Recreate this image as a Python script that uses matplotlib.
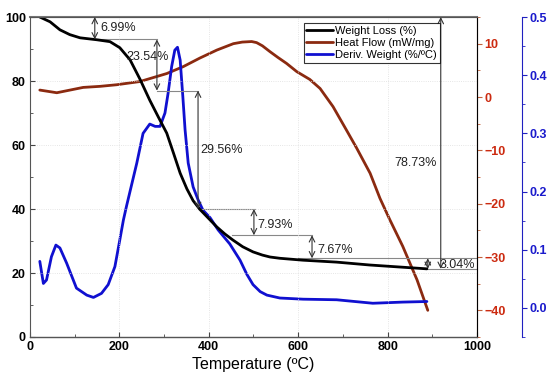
import numpy as np
import matplotlib.pyplot as plt
from matplotlib.ticker import MultipleLocator

plt.rcParams['font.family'] = ['Liberation Sans', 'DejaVu Sans']

# Weight loss (%) vs temperature
t_w = [22, 45, 67, 89, 112, 149, 179, 201, 224, 246, 268, 287, 306, 321, 336, 351, 365, 380, 400, 418, 436, 454, 476, 499,
       520, 537, 559, 611, 686, 760, 888]
w = [100, 98.5, 96.0, 94.5, 93.5, 92.9, 92.3, 90.4, 86.6, 80.6, 74.0, 68.8, 63.7, 57.5, 51.2, 46.3, 42.6, 39.9, 37.0, 34.4,
     32.2, 30.3, 28.2, 26.6, 25.6, 25.0, 24.6, 24.0, 23.4, 22.5, 21.3]

# Heat flow (mW/mg)
t_h = [22, 60, 119, 157, 194, 246, 306, 343, 380, 418, 455, 475, 496, 507, 520, 537, 555, 574, 597, 626, 649, 678, 708, 731,
       761, 783, 805, 834, 866, 890]
hf = [1.3, 0.8, 1.8, 2.0, 2.3, 2.9, 4.4, 5.7, 7.3, 8.8, 10.0, 10.3, 10.4, 10.2, 9.6, 8.5, 7.4, 6.3, 4.75, 3.3, 1.6, -1.8,
      -6.2, -9.6, -14.3, -19.0, -23.0, -28.0, -34.3, -40.0]

# Derivative weight (%/ºC)
t_d = [22, 30, 37, 48, 58, 67, 82, 104, 127, 142, 160, 175, 190, 201, 209, 216, 239, 253, 268, 280, 291, 302, 309, 317, 324,
       330, 336, 342, 347, 354, 365, 376, 387, 403, 421, 447, 470, 485, 499, 515, 530, 559, 611, 686, 767, 834, 888]
dw = [0.08, 0.042, 0.048, 0.088, 0.108, 0.103, 0.077, 0.034, 0.022, 0.018, 0.025, 0.04, 0.071, 0.117, 0.151, 0.175, 0.249,
      0.3, 0.316, 0.312, 0.312, 0.335, 0.369, 0.415, 0.443, 0.448, 0.426, 0.363, 0.306, 0.249, 0.208, 0.186, 0.168, 0.155,
      0.134, 0.11, 0.082, 0.058, 0.04, 0.028, 0.022, 0.017, 0.015, 0.014, 0.008, 0.010, 0.011]

# step annotations: (x of arrow, top, bottom, label, label x, label y)
steps = [
    (145, 100, 93.0, '6.99%', 198, 96.5),
    (284, 93.0, 77.0, '23.54%', 262, 87.5),
    (376, 77.0, 40.0, '29.56%', 428, 58.4),
    (501, 40.0, 31.8, '7.93%', 548, 35.0),
    (631, 31.8, 24.6, '7.67%', 682, 27.2),
    (890, 24.6, 21.3, '3.04%', 957, 22.5),
]
# horizontal guide lines: (y, x0, x1)
guides = [(93.0, 145, 284), (77.0, 284, 376), (40.0, 376, 503), (31.8, 452, 631), (24.6, 600, 1000), (21.3, 888, 1000)]

fig = plt.figure(figsize=(5.5, 3.84), dpi=100)
ax = fig.add_axes([0.0545, 0.1224, 0.8127, 0.8333])
ax2 = ax.twinx()
ax3 = ax.twinx()
ax3.spines['right'].set_position(('axes', 1.1007))

kw = dict(lw=2, solid_joinstyle='round', solid_capstyle='round')
l1, = ax.plot(t_w, w, color='black', label='Weight Loss (%)', **kw)
l2, = ax2.plot(t_h, hf, color='#8b2a10', label='Heat Flow (mW/mg)', **kw)
l3, = ax3.plot(t_d, dw, color='#1010d0', label='Deriv. Weight (%/ºC)', **kw)

ax.set_xlim(0, 1000)
ax.set_ylim(0, 100)
ax2.set_ylim(-45, 15)
ax3.set_ylim(-0.05, 0.5)

ax.xaxis.set_major_locator(MultipleLocator(200))
ax.xaxis.set_minor_locator(MultipleLocator(100))
ax.yaxis.set_major_locator(MultipleLocator(20))
ax.yaxis.set_minor_locator(MultipleLocator(10))
ax2.yaxis.set_major_locator(MultipleLocator(10))
ax2.yaxis.set_minor_locator(MultipleLocator(5))
ax3.yaxis.set_minor_locator(MultipleLocator(0.05))
ax3.set_yticks([0.0, 0.1, 0.2, 0.3, 0.4, 0.5])
ax3.set_yticklabels(['0.0', '0.1', '0.2', '0.3', '0.4', '0.5'])

ax.grid(True, color='#dddddd', lw=0.6, ls=':')
ax.tick_params(which='both', direction='in', labelsize=9, color='#444444', pad=3)
for lab in ax.get_xticklabels() + ax.get_yticklabels():
    lab.set_fontweight('bold')

ax2.tick_params(which='both', direction='out', colors='#c0603a', labelsize=9, labelcolor='#cc2a10', pad=2)
ax3.tick_params(which='both', direction='out', colors='#2020c0', labelsize=9, labelcolor='#1a1acc', pad=2)
for lab in ax2.get_yticklabels() + ax3.get_yticklabels():
    lab.set_fontweight('bold')

for s in ['left', 'bottom', 'top']:
    ax.spines[s].set_color('#555555')
ax2.spines['right'].set_color('#c0603a')
ax3.spines['right'].set_color('#2020c0')
ax2.spines['top'].set_color('#777777')
ax2.spines['top'].set_linewidth(1.5)
ax3.spines['top'].set_visible(False)
ax2.spines['left'].set_visible(False)
ax3.spines['left'].set_visible(False)

ax.set_xlabel('Temperature (ºC)', fontsize=11.5, labelpad=3)

for y, x0, x1 in guides:
    ax.plot([x0, x1], [y, y], color='#888888', lw=0.8, zorder=1)
for x, top, bot, txt, tx, ty in steps:
    ax.annotate('', xy=(x, bot), xytext=(x, top),
                arrowprops=dict(arrowstyle='<->', color='#333333', lw=0.8, shrinkA=0, shrinkB=0))
    ax.text(tx, ty, txt, fontsize=9, color='#222222', ha='center', va='center')

ax.annotate('', xy=(919, 21.3), xytext=(919, 100),
            arrowprops=dict(arrowstyle='<->', color='#333333', lw=0.8, shrinkA=0, shrinkB=0))
ax.text(862, 54.4, '78.73%', fontsize=9, color='#222222', ha='center', va='center')

ax.set_zorder(ax3.get_zorder() + 1)
ax.patch.set_visible(False)
leg = ax.legend(handles=[l1, l2, l3], loc='upper left', bbox_to_anchor=(0.612, 0.982), fontsize=8,
                frameon=True, fancybox=False, edgecolor='black', handlelength=2.4,
                borderpad=0.25, labelspacing=0.2, handletextpad=0.2, borderaxespad=0)
leg.get_frame().set_linewidth(0.8)

fig.savefig('out.png', dpi=100)
